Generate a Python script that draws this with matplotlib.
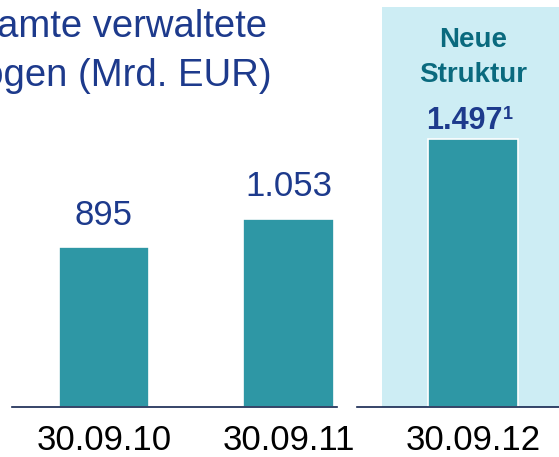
import matplotlib
matplotlib.use("Agg")
import matplotlib.pyplot as plt
from matplotlib.patches import Rectangle
import matplotlib.transforms as mtransforms

plt.rcParams['font.family'] = ['Liberation Sans', 'DejaVu Sans']

# Data
dates = ["30.09.10", "30.09.11", "30.09.12"]
values = [895, 1053, 1497]
value_labels = ["895", "1.053", "1.497"]
title_lines = ["Gesamte verwaltete", "Vermögen (Mrd. EUR)"]
panel_lines = ["Neue", "Struktur"]

W, H = 559, 457
fig = plt.figure(figsize=(W / 100, H / 100), dpi=100)
ax = fig.add_axes([0, 0, 1, 1])
ax.set_axis_off()

px_per_x = 184.5
x0_px = 104
ax.set_xlim(-x0_px / px_per_x, (W - x0_px) / px_per_x)
base_px = 50
px_per_unit = 0.179
ax.set_ylim(-base_px / px_per_unit, (H - base_px) / px_per_unit)

bar_color = "#2e97a5"
panel_color = "#cdedf4"
blue = "#1d3a8c"
teal_text = "#0a6a7e"
navy = "#14254f"

# Highlight panel for the new structure
ax.add_patch(Rectangle((382 / W, base_px / H), 1 - 382 / W, (H - 7 - base_px) / H,
                       transform=ax.transAxes, facecolor=panel_color,
                       edgecolor="none", zorder=0))

xs = list(range(len(values)))
ax.bar(xs, values, width=0.49, color=bar_color, edgecolor="white",
       linewidth=1.2, zorder=2)

# Baseline segments
ax.axhline(0, xmin=12 / W, xmax=337 / W, color=navy, linewidth=1.2, zorder=3)
ax.axhline(0, xmin=357 / W, xmax=1.0, color=navy, linewidth=1.2, zorder=3)

# Category labels
trans = mtransforms.blended_transform_factory(ax.transData, ax.transAxes)
for x, d in zip(xs, dates):
    ax.text(x, 16 / H, d, transform=trans, ha="center", va="center",
            fontsize=25, color="black")

# Value labels
for x, v, lab in zip(xs[:2], values[:2], value_labels[:2]):
    ax.annotate(lab, (x, v), xytext=(0, 11), textcoords="offset points",
                ha="center", va="bottom", fontsize=25, color=blue)

ax.annotate(value_labels[2], (xs[2], values[2]), xytext=(21, 7),
            textcoords="offset points", ha="right", va="baseline",
            fontsize=22, fontweight="bold", color=blue)
ax.annotate("1", (xs[2], values[2]), xytext=(21.8, 14.5),
            textcoords="offset points", ha="left", va="baseline",
            fontsize=13, fontweight="bold", color=blue)

# Panel heading
ax.text(xs[2], 1 - 40 / H, panel_lines[0], transform=trans, ha="center",
        va="center", fontsize=20, fontweight="bold", color=teal_text)
ax.text(xs[2], 1 - 75 / H, panel_lines[1], transform=trans, ha="center",
        va="center", fontsize=20, fontweight="bold", color=teal_text)

# Title (extends past the left edge)
fig.text(267 / W, 1 - 37 / H, title_lines[0], ha="right", va="baseline",
         fontsize=27.5, color=blue)
fig.text(272 / W, 1 - 86 / H, title_lines[1], ha="right", va="baseline",
         fontsize=27.5, color=blue)

fig.savefig("out.png", dpi=100)
